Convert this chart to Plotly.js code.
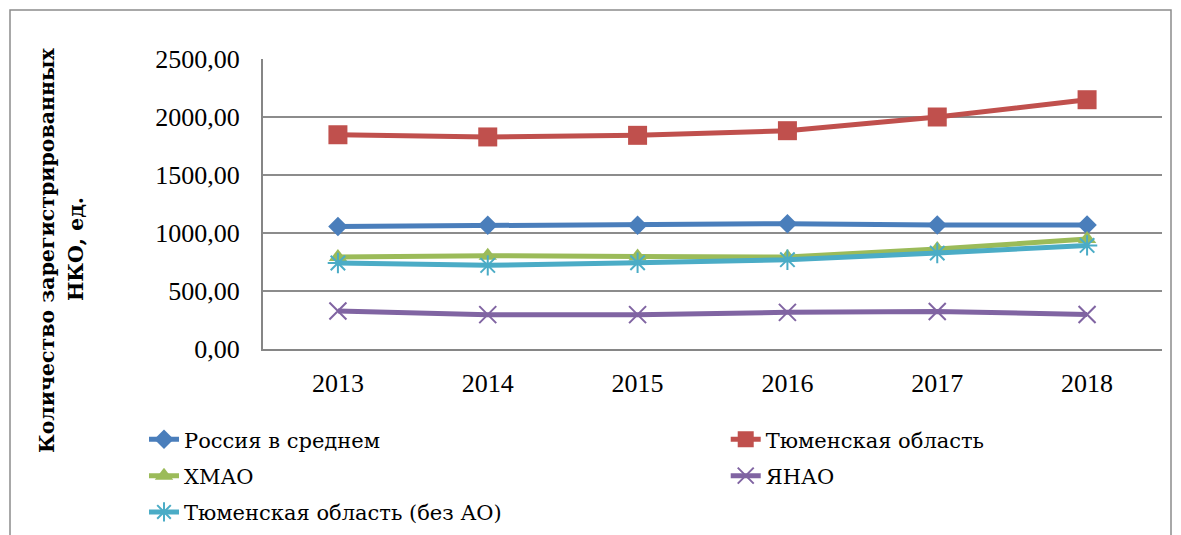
<!DOCTYPE html>
<html>
<head>
<meta charset="utf-8">
<script src="https://cdn.plot.ly/plotly-3.0.1.min.js"></script>
<style>html,body{margin:0;padding:0;background:#fff;}#chart{width:1181px;height:535px;}</style>
</head>
<body>
<div id="chart"></div>
<script>
var years = ["2013", "2014", "2015", "2016", "2017", "2018"];
var seriesNames = ["Россия в среднем", "Тюменская область", "ХМАО", "ЯНАО", "Тюменская область (без АО)"];
var russia = [1057, 1066, 1066, 1080, 1069, 1069];
var tyumen = [1847, 1828, 1842, 1882, 2000, 2149];
var hmao = [793, 804, 798, 793, 862, 948];
var yanao = [328, 296, 296, 316, 324, 298];
var tyumenNoAO = [741, 721, 744, 770, 827, 893];
var yTitleLine1 = "Количество зарегистрированных";
var yTitleLine2 = "НКО, ед.";

var font = "Liberation Serif, serif";
var cyrFont = "'DejaVu Serif', serif";
function tr(name, y, color, symbol, msize, open, legendId, group) {
  var m = {symbol: symbol, size: msize, color: color};
  if (open) m.line = {color: color, width: 2};
  return {x: years, y: y, name: name, type: "scatter", mode: "lines+markers",
    line: {color: color, width: 5}, marker: m, legend: legendId, legendgroup: group};
}
var data = [
  tr(seriesNames[0], russia, "#4A7EBB", "diamond", 15, false, "legend", "g1"),
  tr(seriesNames[1], tyumen, "#C0504D", "square", 19, false, "legend2", "g2"),
  tr(seriesNames[2], hmao, "#9BBB59", "triangle-up", 16, false, "legend", "g3"),
  tr(seriesNames[3], yanao, "#8064A2", "x-thin-open", 17, true, "legend2", "g4"),
  tr(seriesNames[4], tyumenNoAO, "#4BACC6", "asterisk-open", 17, true, "legend", "g5")
];
var legFont = {family: cyrFont, size: 21, color: "#000"};
var layout = {
  width: 1181, height: 535,
  margin: {l: 263, r: 19, t: 59, b: 186, autoexpand: false},
  paper_bgcolor: "#fff", plot_bgcolor: "#fff",
  separators: ", ",
  font: {family: font, size: 26, color: "#000"},
  showlegend: true,
  xaxis: {type: "category", range: [-0.5, 5.5], showgrid: false, showline: true,
    linecolor: "#868686", linewidth: 2, ticks: "", ticklabelstandoff: 10,
    tickfont: {family: font, size: 26, color: "#000"}, fixedrange: true},
  yaxis: {range: [0, 2500], dtick: 500, tickformat: ".2f", showgrid: true,
    gridcolor: "#8C8C8C", gridwidth: 2, showline: true, linecolor: "#868686", linewidth: 2,
    zeroline: false, ticks: "", ticklabelstandoff: 16,
    tickfont: {family: font, size: 26, color: "#000"}, fixedrange: true},
  legend: {orientation: "v", x: (144 - 263) / 899, y: -0.242, xanchor: "left", yanchor: "top",
    traceorder: "grouped", tracegroupgap: 6, font: legFont, bgcolor: "rgba(0,0,0,0)"},
  legend2: {orientation: "v", x: 0.5147, y: -0.242, xanchor: "left", yanchor: "top",
    traceorder: "grouped", tracegroupgap: 6, font: legFont, bgcolor: "rgba(0,0,0,0)"},
  annotations: [
    {text: yTitleLine1, xref: "paper", yref: "paper", x: (47 - 263) / 899, y: (349 - 250) / 290,
      textangle: -90, showarrow: false, xanchor: "center", yanchor: "middle",
      font: {family: cyrFont, size: 20.5, color: "#000", weight: "bold"}},
    {text: yTitleLine2, xref: "paper", yref: "paper", x: (76 - 263) / 899, y: (349 - 249) / 290,
      textangle: -90, showarrow: false, xanchor: "center", yanchor: "middle",
      font: {family: cyrFont, size: 20.5, color: "#000", weight: "bold"}}
  ],
  shapes: [{type: "rect", xref: "paper", yref: "paper",
    x0: (10 - 263) / 899, x1: (1171 - 263) / 899,
    y0: (349 - 545) / 290, y1: 1 + (59 - 10) / 290,
    line: {color: "#8C8C8C", width: 1.5}, layer: "below"}]
};
Plotly.newPlot("chart", data, layout, {displayModeBar: false, staticPlot: true});
</script>
</body>
</html>
